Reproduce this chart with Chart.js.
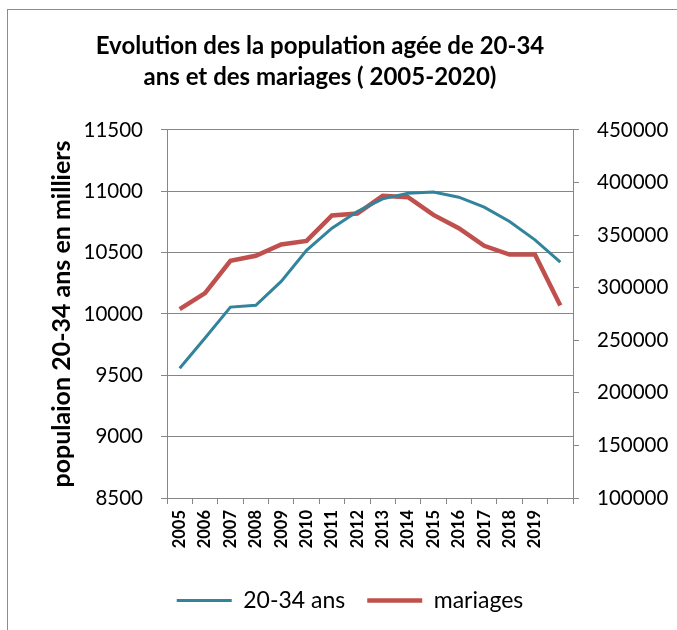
<!DOCTYPE html>
<html>
<head>
<meta charset="utf-8">
<script src="https://cdn.jsdelivr.net/npm/chart.js@4"></script>
<style>
  body { margin: 0; background: #fff; }
  #frame { position: absolute; left: 7px; top: 9px; width: 720px; height: 700px;
           border-left: 1px solid #8c8c8c; border-top: 1px solid #8c8c8c; }
  #c { position: absolute; left: 0; top: 0; }
</style>
</head>
<body>
<div id="frame"></div>
<canvas id="c" width="677" height="630"></canvas>
<script>
// annees (la derniere n'a pas d'etiquette sur l'axe)
const annees = ["2005", "2006", "2007", "2008", "2009", "2010", "2011", "2012",
  "2013", "2014", "2015", "2016", "2017", "2018", "2019", ""];

// population 20-34 ans (milliers)
const pop2034 = [9557, 9804, 10056, 10070, 10265, 10518, 10699, 10835,
  10938, 10984, 10993, 10952, 10870, 10754, 10604, 10423];

// nombre de mariages
const mariages = [279600, 294800, 325500, 330300, 341000, 344500, 368600, 370500,
  387300, 386000, 369200, 356600, 339800, 331500, 331500, 283100];

const gris = "#868686";
const police = "Lato, 'Liberation Sans', sans-serif";

// recentrer titre et legende comme dans l'original
const decalage = {
  id: "decalage",
  afterLayout(chart) {
    const t = chart.titleBlock;
    const dt = 320 - (t.left + t.right) / 2;
    t.left += dt; t.right += dt;
    const l = chart.legend;
    const dl = 350 - (l.left + l.right) / 2;
    l.left += dl; l.right += dl;
  }
};

new Chart(document.getElementById("c"), {
  type: "line",
  data: {
    labels: annees,
    datasets: [
      {
        label: "20-34 ans",
        data: pop2034,
        borderColor: "#31849b",
        backgroundColor: "#31849b",
        borderWidth: 3,
        pointRadius: 0,
        tension: 0,
        yAxisID: "y"
      },
      {
        label: "mariages",
        data: mariages,
        borderColor: "#c0504d",
        backgroundColor: "#c0504d",
        borderWidth: 4.5,
        pointRadius: 0,
        tension: 0,
        yAxisID: "y2"
      }
    ]
  },
  plugins: [decalage],
  options: {
    responsive: false,
    animation: false,
    layout: { padding: { left: 0, right: 0, top: 0, bottom: 8 } },
    plugins: {
      title: {
        display: true,
        text: ["Evolution des la population agée de 20-34", "ans et des mariages ( 2005-2020)"],
        color: "#000",
        font: { family: police, size: 24, weight: "bold", lineHeight: 1.29 },
        padding: { top: 31, bottom: 37 }
      },
      legend: {
        position: "bottom",
        labels: {
          color: "#000",
          font: { family: police, size: 23 },
          usePointStyle: true,
          pointStyle: "line",
          pointStyleWidth: 55,
          padding: 22
        }
      },
      tooltip: { enabled: false }
    },
    scales: {
      x: {
        offset: true,
        grid: { offset: true, drawOnChartArea: false, color: gris, tickLength: 6 },
        border: { color: gris },
        ticks: {
          color: "#000",
          autoSkip: false,
          maxRotation: 90,
          minRotation: 90,
          padding: 6,
          font: { family: police, size: 16.5, weight: "bold" }
        },
        afterFit: s => { s.height = 69; }
      },
      y: {
        position: "left",
        min: 8500,
        max: 11500,
        ticks: { stepSize: 500, color: "#000", padding: 18,
          font: { family: police, size: 20.5 }, callback: v => String(v) },
        grid: { color: gris, tickLength: 6 },
        border: { color: gris },
        title: {
          display: true,
          text: "populaion 20-34 ans en milliers",
          color: "#000",
          font: { family: police, size: 25, weight: "bold" },
          padding: { top: 47, bottom: 0 }
        },
        afterFit: s => { s.width = 167; }
      },
      y2: {
        position: "right",
        min: 100000,
        max: 450000,
        ticks: { stepSize: 50000, color: "#000", padding: 18,
          font: { family: police, size: 20.5 }, callback: v => String(v) },
        grid: { drawOnChartArea: false, color: gris, tickLength: 6 },
        border: { color: gris },
        afterFit: s => { s.width = 104; }
      }
    }
  }
});
</script>
</body>
</html>
